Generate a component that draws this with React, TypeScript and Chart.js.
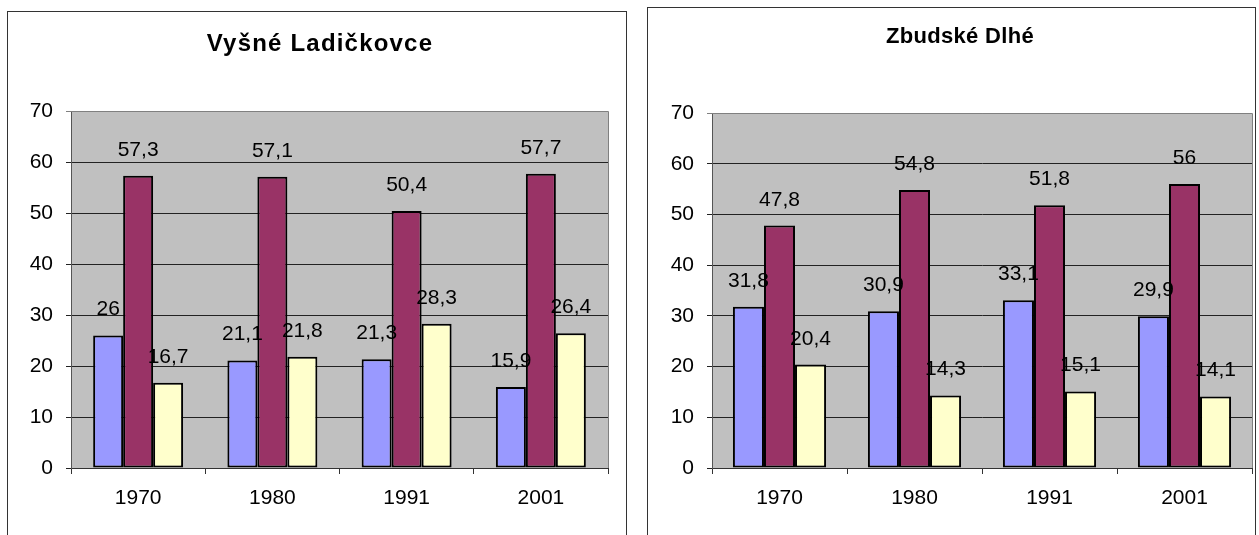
import React, { useEffect, useRef } from "react";
import { Chart, registerables } from "chart.js";

Chart.register(...registerables);

const categories = ["1970", "1980", "1991", "2001"];
const yTickMax = 70;
const yTickStep = 10;

const titleLeft = "Vyšné Ladičkovce";
const leftBlue = [26, 21.1, 21.3, 15.9];
const leftPurple = [57.3, 57.1, 50.4, 57.7];
const leftYellow = [16.7, 21.8, 28.3, 26.4];

const titleRight = "Zbudské Dlhé";
const rightBlue = [31.8, 30.9, 33.1, 29.9];
const rightPurple = [47.8, 54.8, 51.8, 56];
const rightYellow = [20.4, 14.3, 15.1, 14.1];

const FONT = '"Liberation Sans", Arial, sans-serif';
const COLORS = ["#9999FF", "#993366", "#FFFFCC"];

const fmt = (v: number) => String(v).replace(".", ",");

type Cfg = {
  canvasLeft: number;
  canvasWidth: number;
  pad: { left: number; top: number; right: number; bottom: number };
  catPct: number;
  titleX: number;
  titleY: number;
  titleSize: number;
  titleSpacing: number;
};

function BarChart({ title, series, cfg }: { title: string; series: number[][]; cfg: Cfg }) {
  const ref = useRef<HTMLCanvasElement | null>(null);
  useEffect(() => {
    if (!ref.current) return;
    const bgPlugin = {
      id: "plotBg",
      beforeDraw(chart: any) {
        const { ctx, chartArea: a } = chart;
        ctx.save();
        ctx.fillStyle = "#C0C0C0";
        ctx.fillRect(a.left, a.top, a.right - a.left, a.bottom - a.top);
        ctx.restore();
      },
      afterDraw(chart: any) {
        const { ctx, chartArea: a } = chart;
        ctx.save();
        ctx.strokeStyle = "#808080";
        ctx.lineWidth = 1;
        ctx.beginPath();
        ctx.moveTo(a.left, a.top + 0.5);
        ctx.lineTo(a.right + 0.5, a.top + 0.5);
        ctx.lineTo(a.right + 0.5, a.bottom);
        ctx.stroke();
        ctx.font = `bold ${cfg.titleSize}px ${FONT}`;
        (ctx as any).letterSpacing = `${cfg.titleSpacing}px`;
        ctx.fillStyle = "#000";
        ctx.textAlign = "center";
        ctx.textBaseline = "alphabetic";
        ctx.fillText(title, cfg.titleX, cfg.titleY);
        ctx.restore();
      },
    };
    const labelPlugin = {
      id: "valueLabels",
      afterDatasetsDraw(chart: any) {
        const { ctx } = chart;
        ctx.save();
        ctx.font = `21px ${FONT}`;
        ctx.fillStyle = "#000";
        ctx.textAlign = "center";
        ctx.textBaseline = "alphabetic";
        chart.data.datasets.forEach((ds: any, i: number) => {
          const meta = chart.getDatasetMeta(i);
          meta.data.forEach((el: any, j: number) => {
            ctx.fillText(fmt(ds.data[j]), el.x, el.y - 20);
          });
        });
        ctx.restore();
      },
    };
    const chart = new Chart(ref.current, {
      type: "bar",
      data: {
        labels: categories,
        datasets: series.map((d, i) => ({
          data: d,
          backgroundColor: COLORS[i],
          borderColor: "#000",
          borderWidth: 2,
          borderSkipped: false,
          categoryPercentage: cfg.catPct,
          barPercentage: 1,
        })),
      },
      options: {
        responsive: false,
        animation: false,
        devicePixelRatio: 1,
        layout: { padding: cfg.pad },
        plugins: { legend: { display: false }, tooltip: { enabled: false }, title: { display: false } },
        scales: {
          x: {
            offset: true,
            afterFit: (s: any) => { s.height = 40; },
            grid: { offset: true, drawOnChartArea: false, drawTicks: true, tickLength: 6, color: "#333" },
            border: { color: "#333", width: 1 },
            ticks: { color: "#000", font: { family: FONT, size: 21 }, padding: 12, maxRotation: 0 },
          },
          y: {
            min: 0,
            max: yTickMax,
            afterFit: (s: any) => { s.width = 60; },
            grid: {
              color: (c: any) => (c.tick && c.tick.value === yTickMax ? "#808080" : "#222"),
              tickLength: 5,
              drawTicks: true,
            },
            border: { color: "#555", width: 1 },
            ticks: { stepSize: yTickStep, color: "#000", font: { family: FONT, size: 21 }, padding: 13 },
          },
        },
      },
      plugins: [bgPlugin, labelPlugin],
    } as any);
    return () => chart.destroy();
  }, []);
  return (
    <canvas
      ref={ref}
      width={cfg.canvasWidth}
      height={535}
      style={{ position: "absolute", left: cfg.canvasLeft, top: 0, width: cfg.canvasWidth, height: 535, zIndex: 2 }}
    />
  );
}

export default function App() {
  const leftCfg: Cfg = {
    canvasLeft: 0,
    canvasWidth: 636,
    pad: { left: 11, top: 111, right: 28, bottom: 27 },
    catPct: 0.67,
    titleX: 320,
    titleY: 51,
    titleSize: 24,
    titleSpacing: 1.2,
  };
  const rightCfg: Cfg = {
    canvasLeft: 640,
    canvasWidth: 619,
    pad: { left: 12, top: 113, right: 7, bottom: 27 },
    catPct: 0.69,
    titleX: 320,
    titleY: 43,
    titleSize: 22,
    titleSpacing: 0.3,
  };
  return (
    <div style={{ position: "fixed", left: 0, top: 0, width: 1259, height: 535, overflow: "hidden", background: "#fff" }}>
      <div style={{ position: "absolute", left: 7, top: 11, width: 620, height: 600, border: "1px solid #333", boxSizing: "border-box" }} />
      <div style={{ position: "absolute", left: 647, top: 7, width: 609, height: 600, border: "1px solid #333", boxSizing: "border-box" }} />
      <BarChart title={titleLeft} series={[leftBlue, leftPurple, leftYellow]} cfg={leftCfg} />
      <BarChart title={titleRight} series={[rightBlue, rightPurple, rightYellow]} cfg={rightCfg} />
    </div>
  );
}
